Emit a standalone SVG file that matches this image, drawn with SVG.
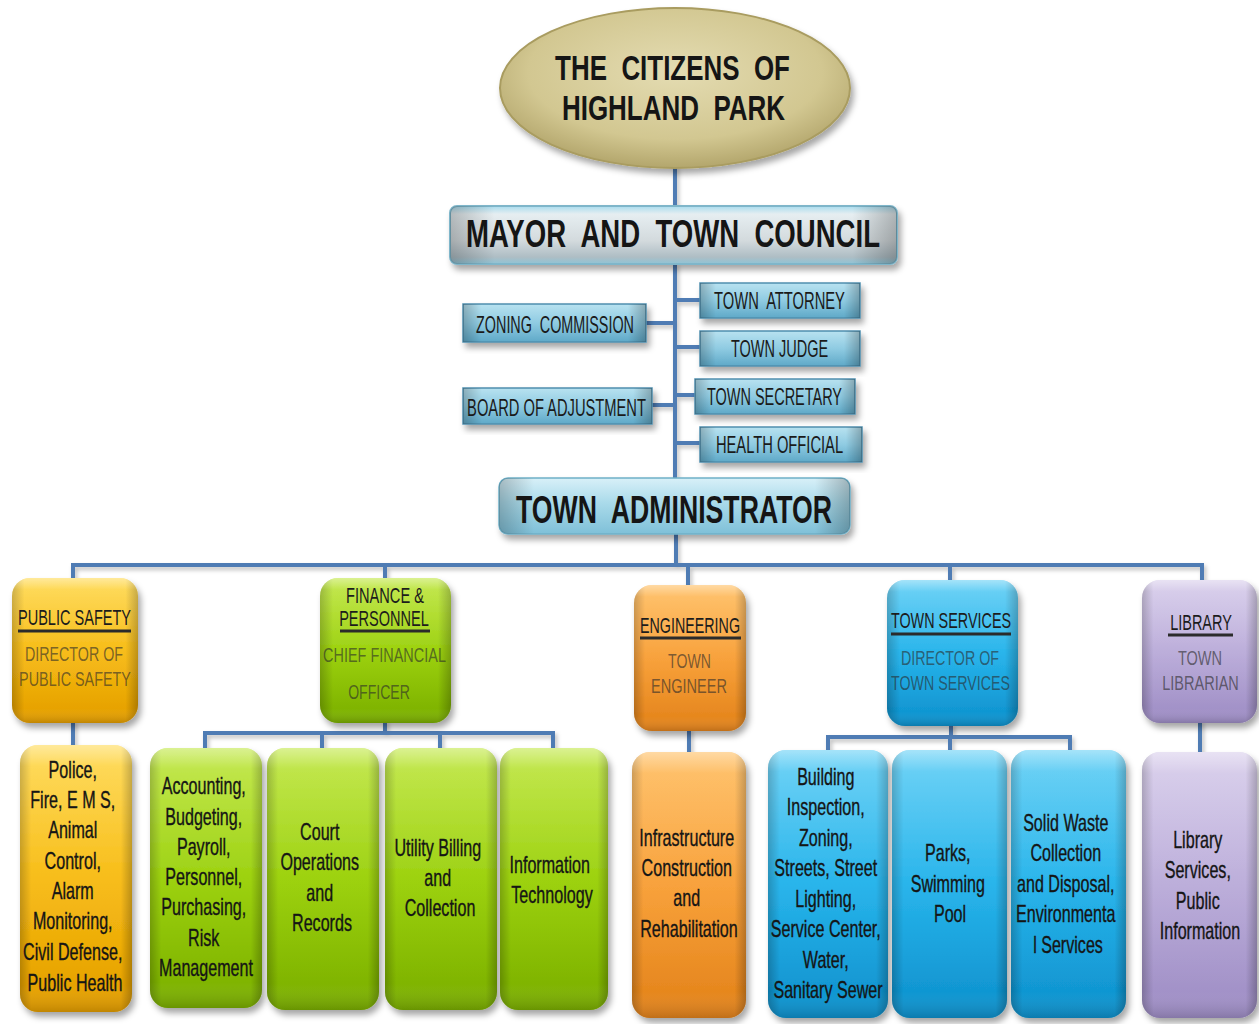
<svg xmlns="http://www.w3.org/2000/svg" width="1259" height="1024" viewBox="0 0 1259 1024">
  <style>
    .lbl { font-family: "Liberation Sans", Arial, sans-serif; fill: #151515; }
    .bold { font-weight: bold; }
    .head { font-size: 22px; fill: #1c1c1c; }
    .sub { font-size: 21px; fill: #2a2a2a; fill-opacity: 0.62; }
    .body { font-size: 23px; fill: #151515; stroke: #151515; stroke-width: 0.35; }
    .mid { font-size: 24px; fill: #1a1a1a; }
    .conn { fill: none; stroke: #4f7cb4; stroke-width: 4; stroke-linecap: square; }
    .uline { stroke: #2b2b2b; stroke-width: 3; }
  </style>
  <defs>
    <filter id="shadow" x="-20%" y="-20%" width="150%" height="150%">
      <feDropShadow dx="3" dy="5" stdDeviation="3" flood-color="#000" flood-opacity="0.35"/>
    </filter>
    <filter id="lineShadow" x="-5%" y="-50%" width="110%" height="300%">
      <feDropShadow dx="2" dy="3" stdDeviation="2" flood-color="#000" flood-opacity="0.25"/>
    </filter>
    <radialGradient id="gKhaki" cx="0.5" cy="0.4" r="0.6">
      <stop offset="0" stop-color="#e4dcb2"/>
      <stop offset="0.7" stop-color="#d2c791"/>
      <stop offset="1" stop-color="#b3a66c"/>
    </radialGradient>
    <linearGradient id="gMayor" x1="0" y1="0" x2="0" y2="1">
      <stop offset="0" stop-color="#a9dcee"/>
      <stop offset="0.14" stop-color="#e6eef1"/>
      <stop offset="0.6" stop-color="#d3dadd"/>
      <stop offset="0.88" stop-color="#aebdc4"/>
      <stop offset="1" stop-color="#8fc4d6"/>
    </linearGradient>
    <linearGradient id="gAdmin" x1="0" y1="0" x2="0" y2="1">
      <stop offset="0" stop-color="#d8f0f8"/>
      <stop offset="0.45" stop-color="#a9daea"/>
      <stop offset="1" stop-color="#7fc0d8"/>
    </linearGradient>
    <linearGradient id="gMid" x1="0" y1="0" x2="0" y2="1">
      <stop offset="0" stop-color="#b8e2f0"/>
      <stop offset="0.5" stop-color="#8fcbe2"/>
      <stop offset="1" stop-color="#5fa9c8"/>
    </linearGradient>
    <linearGradient id="gYellow" x1="0" y1="0" x2="0" y2="1">
      <stop offset="0" stop-color="#ffd84a"/>
      <stop offset="0.5" stop-color="#f7b90a"/>
      <stop offset="1" stop-color="#e39d00"/>
    </linearGradient>
    <linearGradient id="gGreen" x1="0" y1="0" x2="0" y2="1">
      <stop offset="0" stop-color="#bde63a"/>
      <stop offset="0.5" stop-color="#97cf02"/>
      <stop offset="1" stop-color="#7aae00"/>
    </linearGradient>
    <linearGradient id="gOrange" x1="0" y1="0" x2="0" y2="1">
      <stop offset="0" stop-color="#ffbb5a"/>
      <stop offset="0.5" stop-color="#f89c30"/>
      <stop offset="1" stop-color="#e2821a"/>
    </linearGradient>
    <linearGradient id="gBlue" x1="0" y1="0" x2="0" y2="1">
      <stop offset="0" stop-color="#5ccdf5"/>
      <stop offset="0.5" stop-color="#1cb0ea"/>
      <stop offset="1" stop-color="#0e90cc"/>
    </linearGradient>
    <linearGradient id="gLav" x1="0" y1="0" x2="0" y2="1">
      <stop offset="0" stop-color="#d6cbea"/>
      <stop offset="0.5" stop-color="#b8a9d8"/>
      <stop offset="1" stop-color="#9d8cc4"/>
    </linearGradient>
    <!-- darkened side edges for the glossy tiles -->
    <linearGradient id="gEdge" x1="0" y1="0" x2="1" y2="0">
      <stop offset="0" stop-color="#000" stop-opacity="0.22"/>
      <stop offset="0.1" stop-color="#000" stop-opacity="0"/>
      <stop offset="0.9" stop-color="#000" stop-opacity="0"/>
      <stop offset="1" stop-color="#000" stop-opacity="0.25"/>
    </linearGradient>
    <linearGradient id="gSheen" x1="0" y1="0" x2="0" y2="1">
      <stop offset="0" stop-color="#fff" stop-opacity="0.45"/>
      <stop offset="0.08" stop-color="#fff" stop-opacity="0.12"/>
      <stop offset="0.9" stop-color="#fff" stop-opacity="0"/>
      <stop offset="1" stop-color="#000" stop-opacity="0.15"/>
    </linearGradient>
  </defs>

  <rect width="1259" height="1024" fill="#fff"/>

  <!-- connectors -->
  <g id="connectors" filter="url(#lineShadow)">
    <path class="conn" d="M675 168 V207"/>
    <path class="conn" d="M675 265 V478"/>
    <path class="conn" d="M675 300 H700 M675 347 H700 M675 395 H695 M675 443 H700"/>
    <path class="conn" d="M645 323 H675 M652 405 H675"/>
    <path class="conn" d="M676 535 V565"/>
    <path class="conn" d="M73 565 H1202"/>
    <path class="conn" d="M73 565 V578 M385 565 V578 M688 565 V585 M950 565 V580 M1202 565 V580"/>
    <path class="conn" d="M73 722 V745"/>
    <path class="conn" d="M385 722 V733 M205 733 H553 M205 733 V748 M322 733 V748 M440 733 V748 M553 733 V748"/>
    <path class="conn" d="M689 730 V752"/>
    <path class="conn" d="M951 725 V737 M828 737 H1070 M828 737 V750 M950 737 V750 M1070 737 V750"/>
    <path class="conn" d="M1200 722 V752"/>
  </g>

  <!-- top of the hierarchy -->
  <g id="citizens">
    <ellipse cx="675" cy="88" rx="175" ry="80" fill="url(#gKhaki)" stroke="#a99c60" stroke-width="2" filter="url(#shadow)"/>
    <text class="lbl bold" font-size="36" text-anchor="middle" transform="translate(672.5 0) scale(0.78 1)" x="0" y="80" textLength="301" lengthAdjust="spacingAndGlyphs" xml:space="preserve">THE  CITIZENS  OF</text>
    <text class="lbl bold" font-size="36" text-anchor="middle" transform="translate(673.5 0) scale(0.78 1)" x="0" y="120" textLength="286" lengthAdjust="spacingAndGlyphs" xml:space="preserve">HIGHLAND  PARK</text>
  </g>

  <g id="mayor-council">
    <rect x="450" y="206" width="447" height="58" rx="7" fill="url(#gMayor)" stroke="#7fb6ca" stroke-width="2" filter="url(#shadow)"/>
    <rect x="450" y="206" width="447" height="58" rx="7" fill="url(#gEdge)"/>
    <text class="lbl bold" font-size="38" text-anchor="middle" transform="translate(673 0) scale(0.75 1)" x="0" y="247" textLength="552" lengthAdjust="spacingAndGlyphs" xml:space="preserve">MAYOR  AND  TOWN  COUNCIL</text>
  </g>

  <!-- boards and appointed officials -->
  <g id="zoning-commission">
    <rect x="463" y="304" width="183" height="38" fill="url(#gMid)" stroke="#4f8fae" stroke-width="1.5" filter="url(#shadow)"/>
    <rect x="463" y="304" width="183" height="38" fill="url(#gEdge)"/>
    <text class="lbl mid" text-anchor="middle" transform="translate(555 0) scale(0.6 1)" x="0" y="333" textLength="263" lengthAdjust="spacingAndGlyphs" xml:space="preserve">ZONING  COMMISSION</text>
  </g>
  <g id="board-of-adjustment">
    <rect x="463" y="388" width="189" height="36" fill="url(#gMid)" stroke="#4f8fae" stroke-width="1.5" filter="url(#shadow)"/>
    <rect x="463" y="388" width="189" height="36" fill="url(#gEdge)"/>
    <text class="lbl mid" text-anchor="middle" transform="translate(556.5 0) scale(0.6 1)" x="0" y="416" textLength="298" lengthAdjust="spacingAndGlyphs">BOARD OF ADJUSTMENT</text>
  </g>
  <g id="town-attorney">
    <rect x="700" y="283" width="160" height="35" fill="url(#gMid)" stroke="#4f8fae" stroke-width="1.5" filter="url(#shadow)"/>
    <rect x="700" y="283" width="160" height="35" fill="url(#gEdge)"/>
    <text class="lbl mid" text-anchor="middle" transform="translate(779.5 0) scale(0.6 1)" x="0" y="309" textLength="218" lengthAdjust="spacingAndGlyphs" xml:space="preserve">TOWN  ATTORNEY</text>
  </g>
  <g id="town-judge">
    <rect x="700" y="331" width="160" height="35" fill="url(#gMid)" stroke="#4f8fae" stroke-width="1.5" filter="url(#shadow)"/>
    <rect x="700" y="331" width="160" height="35" fill="url(#gEdge)"/>
    <text class="lbl mid" text-anchor="middle" transform="translate(779.5 0) scale(0.6 1)" x="0" y="357" textLength="162" lengthAdjust="spacingAndGlyphs">TOWN JUDGE</text>
  </g>
  <g id="town-secretary">
    <rect x="695" y="379" width="160" height="35" fill="url(#gMid)" stroke="#4f8fae" stroke-width="1.5" filter="url(#shadow)"/>
    <rect x="695" y="379" width="160" height="35" fill="url(#gEdge)"/>
    <text class="lbl mid" text-anchor="middle" transform="translate(774.5 0) scale(0.6 1)" x="0" y="405" textLength="225" lengthAdjust="spacingAndGlyphs">TOWN SECRETARY</text>
  </g>
  <g id="health-official">
    <rect x="700" y="427" width="162" height="35" fill="url(#gMid)" stroke="#4f8fae" stroke-width="1.5" filter="url(#shadow)"/>
    <rect x="700" y="427" width="162" height="35" fill="url(#gEdge)"/>
    <text class="lbl mid" text-anchor="middle" transform="translate(779.5 0) scale(0.6 1)" x="0" y="453" textLength="212" lengthAdjust="spacingAndGlyphs">HEALTH OFFICIAL</text>
  </g>

  <g id="town-administrator">
    <rect x="499" y="478" width="351" height="56" rx="9" fill="url(#gAdmin)" stroke="#6fb0c8" stroke-width="1.5" filter="url(#shadow)"/>
    <rect x="499" y="478" width="351" height="56" rx="9" fill="url(#gEdge)"/>
    <text class="lbl bold" font-size="38" text-anchor="middle" transform="translate(674 0) scale(0.78 1)" x="0" y="523" textLength="405" lengthAdjust="spacingAndGlyphs" xml:space="preserve">TOWN  ADMINISTRATOR</text>
  </g>

  <!-- department heads -->
  <g id="public-safety">
    <rect x="12" y="578" width="126" height="145" rx="18" fill="url(#gYellow)" filter="url(#shadow)"/>
    <rect x="12" y="578" width="126" height="145" rx="18" fill="url(#gEdge)"/>
    <rect x="12" y="578" width="126" height="145" rx="18" fill="url(#gSheen)"/>
    <text class="lbl head" text-anchor="middle" transform="translate(74.5 0) scale(0.65 1)" x="0" y="625" textLength="174" lengthAdjust="spacingAndGlyphs">PUBLIC SAFETY</text>
    <line class="uline" x1="18" y1="631" x2="131" y2="631"/>
    <text class="lbl sub" text-anchor="middle" transform="translate(74 0) scale(0.65 1)" x="0" y="661" textLength="151" lengthAdjust="spacingAndGlyphs">DIRECTOR OF</text>
    <text class="lbl sub" text-anchor="middle" transform="translate(75 0) scale(0.65 1)" x="0" y="686" textLength="172" lengthAdjust="spacingAndGlyphs">PUBLIC SAFETY</text>
  </g>
  <g id="finance-personnel">
    <rect x="320" y="578" width="131" height="145" rx="18" fill="url(#gGreen)" filter="url(#shadow)"/>
    <rect x="320" y="578" width="131" height="145" rx="18" fill="url(#gEdge)"/>
    <rect x="320" y="578" width="131" height="145" rx="18" fill="url(#gSheen)"/>
    <text class="lbl head" text-anchor="middle" transform="translate(385 0) scale(0.65 1)" x="0" y="603" textLength="120" lengthAdjust="spacingAndGlyphs">FINANCE &amp;</text>
    <text class="lbl head" text-anchor="middle" transform="translate(384 0) scale(0.65 1)" x="0" y="626" textLength="138" lengthAdjust="spacingAndGlyphs">PERSONNEL</text>
    <line class="uline" x1="340" y1="631" x2="430" y2="631"/>
    <text class="lbl sub" text-anchor="middle" transform="translate(384.5 0) scale(0.65 1)" x="0" y="662" textLength="189" lengthAdjust="spacingAndGlyphs">CHIEF FINANCIAL</text>
    <text class="lbl sub" text-anchor="middle" transform="translate(379 0) scale(0.65 1)" x="0" y="699" textLength="95" lengthAdjust="spacingAndGlyphs">OFFICER</text>
  </g>
  <g id="engineering">
    <rect x="634" y="585" width="112" height="146" rx="18" fill="url(#gOrange)" filter="url(#shadow)"/>
    <rect x="634" y="585" width="112" height="146" rx="18" fill="url(#gEdge)"/>
    <rect x="634" y="585" width="112" height="146" rx="18" fill="url(#gSheen)"/>
    <text class="lbl head" text-anchor="middle" transform="translate(690 0) scale(0.65 1)" x="0" y="633" textLength="154" lengthAdjust="spacingAndGlyphs">ENGINEERING</text>
    <line class="uline" x1="640" y1="638" x2="741" y2="638"/>
    <text class="lbl sub" text-anchor="middle" transform="translate(689.5 0) scale(0.65 1)" x="0" y="668" textLength="66" lengthAdjust="spacingAndGlyphs">TOWN</text>
    <text class="lbl sub" text-anchor="middle" transform="translate(689 0) scale(0.65 1)" x="0" y="693" textLength="117" lengthAdjust="spacingAndGlyphs">ENGINEER</text>
  </g>
  <g id="town-services">
    <rect x="887" y="580" width="131" height="146" rx="18" fill="url(#gBlue)" filter="url(#shadow)"/>
    <rect x="887" y="580" width="131" height="146" rx="18" fill="url(#gEdge)"/>
    <rect x="887" y="580" width="131" height="146" rx="18" fill="url(#gSheen)"/>
    <text class="lbl head" text-anchor="middle" transform="translate(951 0) scale(0.65 1)" x="0" y="628" textLength="185" lengthAdjust="spacingAndGlyphs">TOWN SERVICES</text>
    <line class="uline" x1="891" y1="634" x2="1011" y2="634"/>
    <text class="lbl sub" text-anchor="middle" transform="translate(950 0) scale(0.65 1)" x="0" y="665" textLength="151" lengthAdjust="spacingAndGlyphs">DIRECTOR OF</text>
    <text class="lbl sub" text-anchor="middle" transform="translate(950.5 0) scale(0.65 1)" x="0" y="690" textLength="183" lengthAdjust="spacingAndGlyphs">TOWN SERVICES</text>
  </g>
  <g id="library">
    <rect x="1142" y="580" width="115" height="143" rx="18" fill="url(#gLav)" filter="url(#shadow)"/>
    <rect x="1142" y="580" width="115" height="143" rx="18" fill="url(#gEdge)"/>
    <rect x="1142" y="580" width="115" height="143" rx="18" fill="url(#gSheen)"/>
    <text class="lbl head" text-anchor="middle" transform="translate(1201 0) scale(0.65 1)" x="0" y="630" textLength="95" lengthAdjust="spacingAndGlyphs">LIBRARY</text>
    <line class="uline" x1="1168" y1="635" x2="1233" y2="635"/>
    <text class="lbl sub" text-anchor="middle" transform="translate(1200 0) scale(0.65 1)" x="0" y="665" textLength="68" lengthAdjust="spacingAndGlyphs">TOWN</text>
    <text class="lbl sub" text-anchor="middle" transform="translate(1200.5 0) scale(0.65 1)" x="0" y="690" textLength="118" lengthAdjust="spacingAndGlyphs">LIBRARIAN</text>
  </g>

  <!-- divisions -->
  <g id="public-safety-services">
    <rect x="20" y="745" width="112" height="267" rx="18" fill="url(#gYellow)" filter="url(#shadow)"/>
    <rect x="20" y="745" width="112" height="267" rx="18" fill="url(#gEdge)"/>
    <rect x="20" y="745" width="112" height="267" rx="18" fill="url(#gSheen)"/>
    <text class="lbl body" text-anchor="middle" transform="translate(75 0) scale(0.7 1)">
      <tspan x="0" y="778">Police,</tspan>
      <tspan x="0" y="808">Fire, E M S,</tspan>
      <tspan x="0" y="838">Animal</tspan>
      <tspan x="0" y="869">Control,</tspan>
      <tspan x="0" y="899">Alarm</tspan>
      <tspan x="0" y="929">Monitoring,</tspan>
      <tspan x="0" y="960">Civil Defense,</tspan>
      <tspan x="0" y="991">Public Health</tspan>
    </text>
  </g>
  <g id="accounting">
    <rect x="150" y="748" width="112" height="260" rx="18" fill="url(#gGreen)" filter="url(#shadow)"/>
    <rect x="150" y="748" width="112" height="260" rx="18" fill="url(#gEdge)"/>
    <rect x="150" y="748" width="112" height="260" rx="18" fill="url(#gSheen)"/>
    <text class="lbl body" text-anchor="middle" transform="translate(206 0) scale(0.7 1)">
      <tspan x="0" y="794">Accounting,</tspan>
      <tspan x="0" y="825">Budgeting,</tspan>
      <tspan x="0" y="855">Payroll,</tspan>
      <tspan x="0" y="885">Personnel,</tspan>
      <tspan x="0" y="915">Purchasing,</tspan>
      <tspan x="0" y="946">Risk</tspan>
      <tspan x="0" y="976">Management</tspan>
    </text>
  </g>
  <g id="court">
    <rect x="267" y="748" width="112" height="262" rx="18" fill="url(#gGreen)" filter="url(#shadow)"/>
    <rect x="267" y="748" width="112" height="262" rx="18" fill="url(#gEdge)"/>
    <rect x="267" y="748" width="112" height="262" rx="18" fill="url(#gSheen)"/>
    <text class="lbl body" text-anchor="middle" transform="translate(322 0) scale(0.7 1)">
      <tspan x="0" y="840">Court</tspan>
      <tspan x="0" y="870">Operations</tspan>
      <tspan x="0" y="901">and</tspan>
      <tspan x="0" y="931">Records</tspan>
    </text>
  </g>
  <g id="utility-billing">
    <rect x="385" y="748" width="112" height="262" rx="18" fill="url(#gGreen)" filter="url(#shadow)"/>
    <rect x="385" y="748" width="112" height="262" rx="18" fill="url(#gEdge)"/>
    <rect x="385" y="748" width="112" height="262" rx="18" fill="url(#gSheen)"/>
    <text class="lbl body" text-anchor="middle" transform="translate(440 0) scale(0.7 1)">
      <tspan x="0" y="856">Utility Billing</tspan>
      <tspan x="0" y="886">and</tspan>
      <tspan x="0" y="916">Collection</tspan>
    </text>
  </g>
  <g id="information-technology">
    <rect x="500" y="748" width="108" height="262" rx="18" fill="url(#gGreen)" filter="url(#shadow)"/>
    <rect x="500" y="748" width="108" height="262" rx="18" fill="url(#gEdge)"/>
    <rect x="500" y="748" width="108" height="262" rx="18" fill="url(#gSheen)"/>
    <text class="lbl body" text-anchor="middle" transform="translate(552 0) scale(0.7 1)">
      <tspan x="0" y="873">Information</tspan>
      <tspan x="0" y="903">Technology</tspan>
    </text>
  </g>
  <g id="infrastructure">
    <rect x="632" y="752" width="114" height="266" rx="18" fill="url(#gOrange)" filter="url(#shadow)"/>
    <rect x="632" y="752" width="114" height="266" rx="18" fill="url(#gEdge)"/>
    <rect x="632" y="752" width="114" height="266" rx="18" fill="url(#gSheen)"/>
    <text class="lbl body" text-anchor="middle" transform="translate(689 0) scale(0.7 1)">
      <tspan x="0" y="846">Infrastructure</tspan>
      <tspan x="0" y="876">Construction</tspan>
      <tspan x="0" y="906">and</tspan>
      <tspan x="0" y="937">Rehabilitation</tspan>
    </text>
  </g>
  <g id="building-streets">
    <rect x="768" y="750" width="120" height="268" rx="18" fill="url(#gBlue)" filter="url(#shadow)"/>
    <rect x="768" y="750" width="120" height="268" rx="18" fill="url(#gEdge)"/>
    <rect x="768" y="750" width="120" height="268" rx="18" fill="url(#gSheen)"/>
    <text class="lbl body" text-anchor="middle" transform="translate(828 0) scale(0.7 1)">
      <tspan x="0" y="785">Building</tspan>
      <tspan x="0" y="815">Inspection,</tspan>
      <tspan x="0" y="846">Zoning,</tspan>
      <tspan x="0" y="876">Streets, Street</tspan>
      <tspan x="0" y="907">Lighting,</tspan>
      <tspan x="0" y="937">Service Center,</tspan>
      <tspan x="0" y="968">Water,</tspan>
      <tspan x="0" y="998">Sanitary Sewer</tspan>
    </text>
  </g>
  <g id="parks">
    <rect x="892" y="750" width="115" height="268" rx="18" fill="url(#gBlue)" filter="url(#shadow)"/>
    <rect x="892" y="750" width="115" height="268" rx="18" fill="url(#gEdge)"/>
    <rect x="892" y="750" width="115" height="268" rx="18" fill="url(#gSheen)"/>
    <text class="lbl body" text-anchor="middle" transform="translate(950 0) scale(0.7 1)">
      <tspan x="0" y="861">Parks,</tspan>
      <tspan x="0" y="892">Swimming</tspan>
      <tspan x="0" y="922">Pool</tspan>
    </text>
  </g>
  <g id="solid-waste">
    <rect x="1011" y="750" width="115" height="268" rx="18" fill="url(#gBlue)" filter="url(#shadow)"/>
    <rect x="1011" y="750" width="115" height="268" rx="18" fill="url(#gEdge)"/>
    <rect x="1011" y="750" width="115" height="268" rx="18" fill="url(#gSheen)"/>
    <text class="lbl body" text-anchor="middle" transform="translate(1068 0) scale(0.7 1)">
      <tspan x="0" y="831">Solid Waste</tspan>
      <tspan x="0" y="861">Collection</tspan>
      <tspan x="0" y="892">and Disposal,</tspan>
      <tspan x="0" y="922">Environmenta</tspan>
      <tspan x="0" y="953">l Services</tspan>
    </text>
  </g>
  <g id="library-services">
    <rect x="1142" y="752" width="115" height="266" rx="18" fill="url(#gLav)" filter="url(#shadow)"/>
    <rect x="1142" y="752" width="115" height="266" rx="18" fill="url(#gEdge)"/>
    <rect x="1142" y="752" width="115" height="266" rx="18" fill="url(#gSheen)"/>
    <text class="lbl body" text-anchor="middle" transform="translate(1200 0) scale(0.7 1)">
      <tspan x="0" y="848">Library</tspan>
      <tspan x="0" y="878">Services,</tspan>
      <tspan x="0" y="909">Public</tspan>
      <tspan x="0" y="939">Information</tspan>
    </text>
  </g>
</svg>
